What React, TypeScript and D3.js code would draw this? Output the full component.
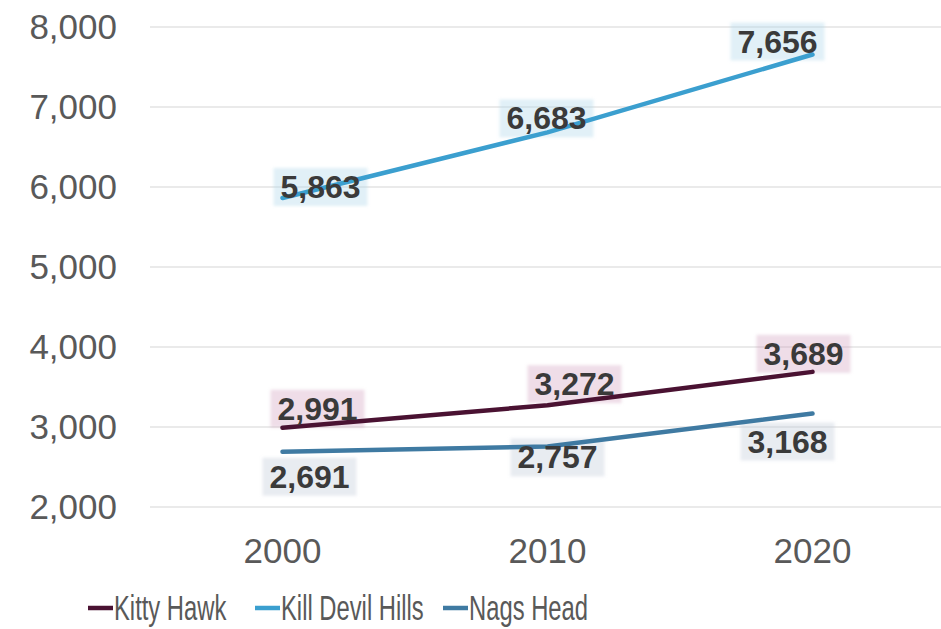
import React from "react";
import * as d3 from "d3";

// Population by town, decennial census
const years = ["2000", "2010", "2020"];
const seriesNames = ["Kitty Hawk", "Kill Devil Hills", "Nags Head"];
const kittyHawk = [2991, 3272, 3689];
const killDevilHills = [5863, 6683, 7656];
const nagsHead = [2691, 2757, 3168];
const yTicks = [2000, 3000, 4000, 5000, 6000, 7000, 8000];

const W = 941;
const H = 629;

const seriesStyle = [
  { color: "#4a1232", labelBg: "rgba(205,150,185,0.32)" },
  { color: "#3b9fcf", labelBg: "rgba(175,215,235,0.38)" },
  { color: "#3f7aa2", labelBg: "rgba(195,205,218,0.38)" },
];

// label placement relative to each point: [dx, dy] to text centre / baseline
const labelOffsets = [
  [[35, -8], [27, -10], [-9, -7]],
  [[38, 0], [-1, -3], [-35, -2]],
  [[27, 36], [10, 22], [-25, 39]],
];

const legendX = [88, 255, 443];
const legendSquash = 0.68;

export default function App() {
  const series = [kittyHawk, killDevilHills, nagsHead];
  const x = d3.scaleBand<string>().domain(years).range([150, 945]);
  const y = d3.scaleLinear().domain([2000, 8000]).range([507, 27]);
  const fmt = d3.format(",");
  const cx = (yr: string) => (x(yr) as number) + x.bandwidth() / 2;
  const line = d3
    .line<number>()
    .x((_, i) => cx(years[i]))
    .y((v) => y(v));

  const labelFont = 32;
  const labelW = (s: string) => s.length * 0.556 * labelFont - 0.278 * labelFont;

  return (
    <svg
      width={W}
      height={H}
      style={{ position: "absolute", left: 0, top: 0, background: "#fff" }}
      fontFamily="'Liberation Sans', Arial, sans-serif"
    >
      <defs>
        <filter id="soft" x="-20%" y="-20%" width="140%" height="140%">
          <feGaussianBlur stdDeviation="1.8" />
        </filter>
      </defs>

      {/* horizontal gridlines */}
      {yTicks.map((t) => (
        <line key={t} x1={150} x2={W} y1={y(t)} y2={y(t)} stroke="#e3e3e3" strokeWidth={1.5} />
      ))}

      {/* y axis labels */}
      {yTicks.map((t) => (
        <text key={t} x={117} y={y(t) + 12} textAnchor="end" fontSize={35} fill="#595959">
          {fmt(t)}
        </text>
      ))}

      {/* x axis labels */}
      {years.map((yr) => (
        <text key={yr} x={cx(yr)} y={563} textAnchor="middle" fontSize={35} fill="#595959">
          {yr}
        </text>
      ))}

      {/* label highlight boxes */}
      {series.map((vals, si) =>
        vals.map((v, i) => {
          const [dx, dy] = labelOffsets[si][i];
          const s = fmt(v);
          const w = labelW(s) + 14;
          const tx = cx(years[i]) + dx;
          const ty = y(v) + dy;
          return (
            <rect
              key={`bg-${si}-${i}`}
              x={tx - w / 2}
              y={ty - 30}
              width={w}
              height={38}
              fill={seriesStyle[si].labelBg}
              filter="url(#soft)"
            />
          );
        })
      )}

      {/* series lines */}
      {series.map((vals, si) => (
        <path
          key={seriesNames[si]}
          d={line(vals) as string}
          fill="none"
          stroke={seriesStyle[si].color}
          strokeWidth={4.5}
          strokeLinecap="round"
        />
      ))}

      {/* data labels */}
      {series.map((vals, si) =>
        vals.map((v, i) => {
          const [dx, dy] = labelOffsets[si][i];
          return (
            <text
              key={`lb-${si}-${i}`}
              x={cx(years[i]) + dx}
              y={y(v) + dy}
              textAnchor="middle"
              fontSize={labelFont}
              fontWeight="bold"
              fill="#3a3a3a"
            >
              {fmt(v)}
            </text>
          );
        })
      )}

      {/* legend */}
      {seriesNames.map((name, si) => (
        <g key={name} transform={`translate(${legendX[si]},608)`}>
          <line x1={0} x2={25} y1={0} y2={0} stroke={seriesStyle[si].color} strokeWidth={4.5} />
          <text
            transform={`translate(26,12) scale(${legendSquash},1)`}
            fontSize={35}
            fill="#595959"
          >
            {name}
          </text>
        </g>
      ))}
    </svg>
  );
}
